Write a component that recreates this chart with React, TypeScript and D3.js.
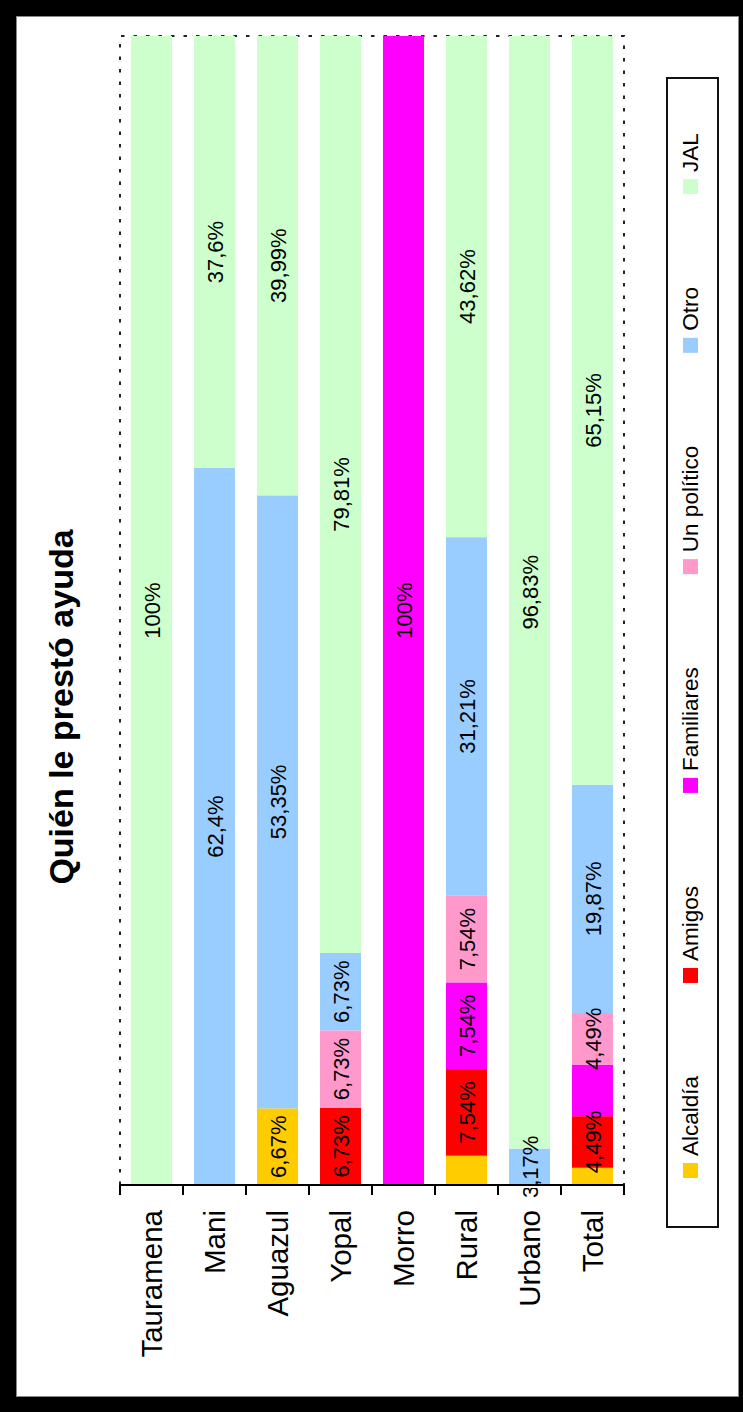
import React, { useEffect, useRef } from "react";
import * as d3 from "d3";

const title = "Quién le prestó ayuda";
const categories = ["Tauramena", "Mani", "Aguazul", "Yopal", "Morro", "Rural", "Urbano", "Total"];
const seriesNames = ["Alcaldía", "Amigos", "Familiares", "Un político", "Otro", "JAL"];
const seriesColors = ["#FFCC00", "#FF0000", "#FF00FF", "#FF99CC", "#99CCFF", "#CCFFCC"];

const alcaldia = [0, 0, 6.67, 0, 0, 2.55, 0, 1.5];
const amigos = [0, 0, 0, 6.73, 0, 7.54, 0, 4.49];
const familiares = [0, 0, 0, 0, 100, 7.54, 0, 4.49];
const unPolitico = [0, 0, 0, 6.73, 0, 7.54, 0, 4.49];
const otro = [0, 62.4, 53.35, 6.73, 0, 31.21, 3.17, 19.87];
const jal = [100, 37.6, 39.99, 79.81, 0, 43.62, 96.83, 65.15];

// labels not shown in the original (category|series)
const hiddenLabels = ["Rural|Alcaldía", "Total|Alcaldía", "Total|Familiares"];

const W = 743;
const H = 1412;
const FONT = "'Liberation Sans', Arial, Helvetica, sans-serif";

export default function App() {
  const ref = useRef<SVGSVGElement | null>(null);

  useEffect(() => {
    const svg = d3.select(ref.current);
    svg.selectAll("*").remove();

    // frame
    svg.append("rect").attr("x", 0).attr("y", 0).attr("width", W).attr("height", H).attr("fill", "#000");
    svg.append("rect").attr("x", 16.5).attr("y", 16.5).attr("width", 722).attr("height", 1380)
      .attr("fill", "#fff").attr("stroke", "#888").attr("stroke-width", 1);

    // rotated chart: inner x = u (value direction), inner y = v
    const g = svg.append("g").attr("transform", `translate(0,${H}) rotate(-90)`);

    const rows = categories.map((c, i) => {
      const r: any = { category: c };
      const vals = [alcaldia, amigos, familiares, unPolitico, otro, jal];
      seriesNames.forEach((s, k) => (r[s] = vals[k][i]));
      return r;
    });

    const stacked = d3.stack<any>().keys(seriesNames)(rows);

    const x = d3.scaleLinear().domain([0, 100]).range([227, 1376]);
    const y = d3.scaleBand<string>().domain(categories).range([120, 624])
      .paddingInner(0.349).paddingOuter(0.1745);
    const color = d3.scaleOrdinal<string, string>().domain(seriesNames).range(seriesColors);

    // plot area dotted border
    g.append("rect")
      .attr("x", x(0)).attr("y", 120).attr("width", x(100) - x(0)).attr("height", 504)
      .attr("fill", "none").attr("stroke", "#222").attr("stroke-width", 2)
      .attr("stroke-dasharray", "3.5 9");

    // bars
    const layer = g.selectAll("g.layer").data(stacked).enter().append("g")
      .attr("class", "layer").attr("fill", (d) => color(d.key));
    layer.selectAll("rect").data((d) => d).enter().append("rect")
      .attr("x", (d) => x(d[0]))
      .attr("width", (d) => x(d[1]) - x(d[0]))
      .attr("y", (d) => y(d.data.category)!)
      .attr("height", y.bandwidth());

    // data labels
    const labels: { u: number; v: number; t: string }[] = [];
    stacked.forEach((s) => {
      s.forEach((d) => {
        const val = d[1] - d[0];
        const cat = d.data.category;
        if (val > 0 && !hiddenLabels.includes(`${cat}|${s.key}`)) {
          const raw = (d.data as any)[s.key] as number;
          labels.push({
            u: x((d[0] + d[1]) / 2),
            v: y(cat)! + y.bandwidth() / 2 + 8,
            t: String(raw).replace(".", ",") + "%",
          });
        }
      });
    });
    g.selectAll("text.lbl").data(labels).enter().append("text")
      .attr("class", "lbl")
      .attr("x", (d) => d.u).attr("y", (d) => d.v)
      .attr("text-anchor", "middle")
      .attr("font-family", FONT).attr("font-size", 22).attr("fill", "#000")
      .text((d) => d.t);

    // axis (drawn over labels)
    g.append("rect").attr("x", x(0) - 3).attr("y", 120).attr("width", 4).attr("height", 504)
      .attr("fill", "#fff");
    g.append("line").attr("x1", x(0)).attr("x2", x(0)).attr("y1", 120).attr("y2", 624)
      .attr("stroke", "#000").attr("stroke-width", 2);
    const step = y.step();
    const ticks = d3.range(categories.length + 1).map((i) => 120 + i * step);
    g.selectAll("line.tick").data(ticks).enter().append("line")
      .attr("class", "tick")
      .attr("x1", x(0)).attr("x2", x(0) - 10)
      .attr("y1", (d) => d).attr("y2", (d) => d)
      .attr("stroke", "#000").attr("stroke-width", 2);

    // category labels
    g.selectAll("text.cat").data(categories).enter().append("text")
      .attr("class", "cat")
      .attr("x", x(0) - 25)
      .attr("y", (d) => y(d)! + y.bandwidth() / 2 + 10.5)
      .attr("text-anchor", "end")
      .attr("font-family", FONT).attr("font-size", 29.5).attr("fill", "#000")
      .text((d) => d);

    // title
    g.append("text").attr("x", 705).attr("y", 73).attr("text-anchor", "middle")
      .attr("font-family", FONT).attr("font-size", 34).attr("font-weight", "bold")
      .attr("fill", "#000").text(title);

    // legend
    g.append("rect").attr("x", 185).attr("y", 667).attr("width", 1334 - 185).attr("height", 51)
      .attr("fill", "#fff").attr("stroke", "#111").attr("stroke-width", 2);
    let cu = 234;
    seriesNames.forEach((s, k) => {
      g.append("rect").attr("x", cu).attr("y", 683).attr("width", 15).attr("height", 15)
        .attr("fill", seriesColors[k]);
      const t = g.append("text").attr("x", cu + 22).attr("y", 698)
        .attr("font-family", FONT).attr("font-size", 22.5).attr("fill", "#000").text(s);
      const w = (t.node() as SVGTextElement).getComputedTextLength();
      cu = cu + 22 + w + 93;
    });
  }, []);

  return (
    <svg
      ref={ref}
      width={W}
      height={H}
      style={{ position: "absolute", left: 0, top: 0, display: "block" }}
    />
  );
}
